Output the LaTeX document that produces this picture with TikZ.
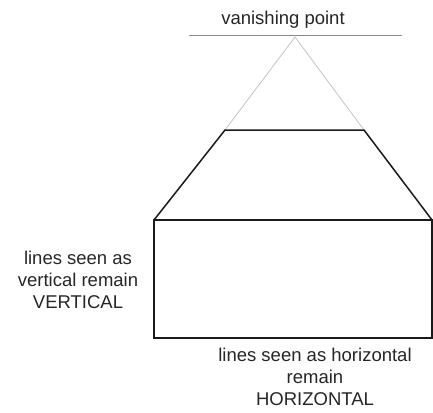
\documentclass[tikz,border=0pt]{standalone}
\usepackage{fontspec}
\setmainfont{Liberation Sans}
\usepackage{xcolor}
\definecolor{InkDark}{HTML}{1A1A1A}
\definecolor{HorizonGray}{HTML}{8A8A8A}
\definecolor{RayGray}{HTML}{C4C4C4}
\definecolor{LabelText}{HTML}{262626}

\begin{document}
\begin{tikzpicture}[x=1pt, y=-1pt]

  % Bildrahmen
  \useasboundingbox (0,0) rectangle (433,412);

  % Stile
  \tikzset{
    label/.style={text=LabelText, align=center, inner sep=0pt,
      font=\fontsize{18.5}{22}\selectfont},
    outline/.style={draw=InkDark, line width=1.5pt, line join=miter},
  }

  % Eckpunkte
  \coordinate (vp) at (295,37);
  \coordinate (hzL) at (189,36);
  \coordinate (hzR) at (402,36);
  \coordinate (topL) at (225,130);
  \coordinate (topR) at (364,130);
  \coordinate (boxNW) at (154,220);
  \coordinate (boxNE) at (432,220);
  \coordinate (boxSW) at (154,338);
  \coordinate (boxSE) at (432,338);

  % Horizont und Fluchtlinien
  \draw[HorizonGray, line width=1pt] (hzL) -- (hzR);
  \draw[RayGray, line width=0.8pt] (topL) -- (vp) -- (topR);

  % Dach (Trapez) und Kasten
  \draw[outline] (boxNW) -- (topL) -- (topR) -- (boxNE);
  \draw[outline] (boxNW) rectangle (boxSE);

  % Beschriftungen
  \node[label] (vpLabel) at (283,20) {vanishing point};
  \node[label] (vertLabel) at (78,280) {lines seen as\\vertical remain\\VERTICAL};
  \node[label] (horLabel) at (315,377) {lines seen as horizontal\\remain\\HORIZONTAL};

\end{tikzpicture}
\end{document}
